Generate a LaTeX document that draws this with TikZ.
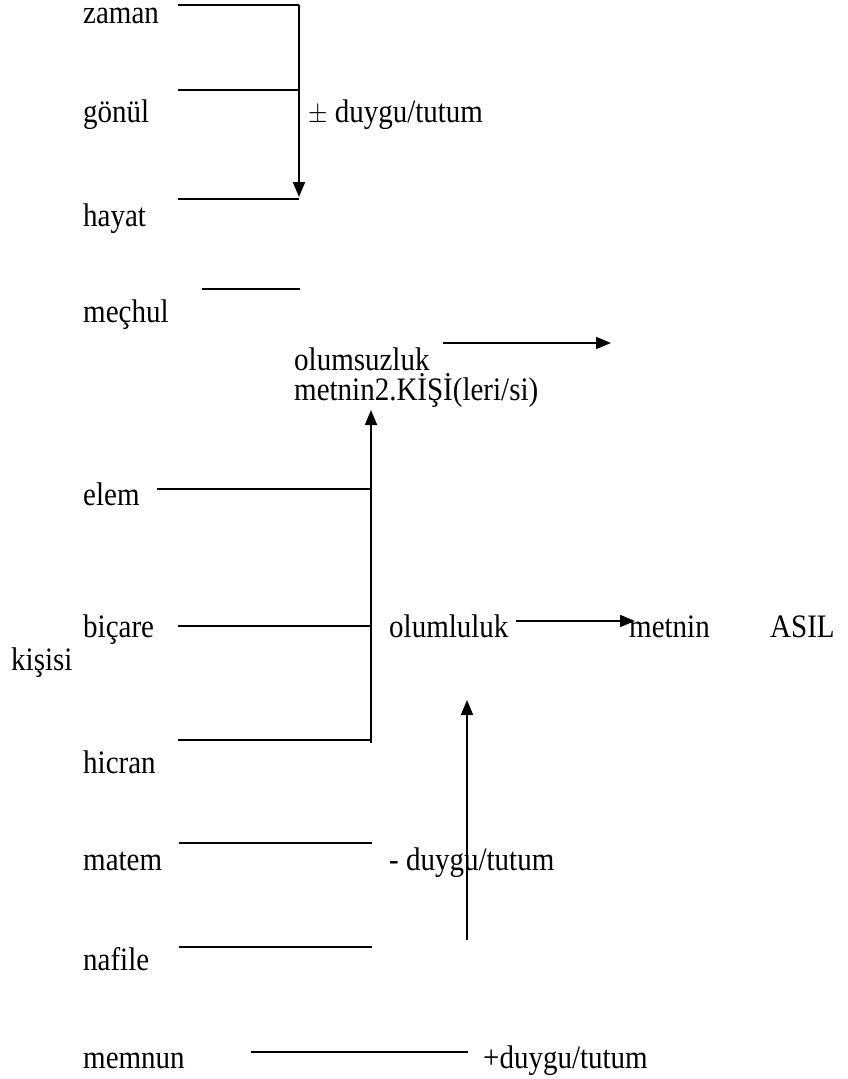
\documentclass[tikz,border=0pt]{standalone}
\usepackage{fontspec}
\setmainfont{Liberation Serif}
\usetikzlibrary{arrows.meta}

% the source text is set a little taller than wide
\newcommand{\tall}[1]{\scalebox{1}[1.13]{#1}}

\begin{document}
\begin{tikzpicture}[x=1pt,y=-1pt,
    word/.style={anchor=base west,inner sep=0pt,font=\fontsize{29}{30}\selectfont},
    bar/.style={line width=1.8pt},
    tip/.style={bar,-{Triangle[length=15pt,width=12pt]}}]
    \useasboundingbox (0,0) rectangle (847,1079);

    % left column of words
    \node[word] (zaman)  at (83,23)   {\tall{zaman}};
    \node[word] (gonul)  at (83,122)  {\tall{gönül}};
    \node[word] (hayat)  at (83,226)  {\tall{hayat}};
    \node[word] (mechul) at (83,322)  {\tall{meçhul}};
    \node[word] (elem)   at (83,505)  {\tall{elem}};
    \node[word] (bicare) at (83,637)  {\tall{biçare}};
    \node[word] (kisisi) at (11,670)  {\tall{kişisi}};
    \node[word] (hicran) at (83,773)  {\tall{hicran}};
    \node[word] (matem)  at (83,870)  {\tall{matem}};
    \node[word] (nafile) at (83,970)  {\tall{nafile}};
    \node[word] (memnun) at (83,1068) {\tall{memnun}};

    % labels
    \node[word] (karisik)   at (308,122)  {\tall{$\pm$ duygu/tutum}};
    \node[word] (olumsuz)   at (294,370)  {\tall{olumsuzluk}};
    \node[word] (ikinci)    at (294,400)  {\tall{metnin2.KİŞİ(leri/si)}};
    \node[word] (olumlu)    at (389,637)  {\tall{olumluluk}};
    \node[word] (metnin)    at (629,637)  {\tall{metnin}};
    \node[word] (asil)      at (770,637)  {\tall{ASIL}};
    \node[word] (eksi)      at (389,870)  {\tall{- duygu/tutum}};
    \node[word] (arti)      at (483,1068) {\tall{+duygu/tutum}};

    % ends of the strokes
    \coordinate (zamanL) at (178,5);    \coordinate (zamanR) at (299,5);
    \coordinate (gonulL) at (178,90);   \coordinate (gonulR) at (299,90);
    \coordinate (hayatL) at (178,199);  \coordinate (hayatR) at (299,199);
    \coordinate (ustuc)  at (299,197);
    \coordinate (mechulL) at (202,289); \coordinate (mechulR) at (300,289);
    \coordinate (olumsuzL) at (443,343); \coordinate (olumsuzR) at (611,343);
    \coordinate (elemL)   at (157,489); \coordinate (elemR)   at (371,489);
    \coordinate (bicareL) at (178,626); \coordinate (bicareR) at (371,626);
    \coordinate (hicranL) at (178,740); \coordinate (hicranR) at (371,740);
    \coordinate (ortaalt) at (371,743); \coordinate (ortaust) at (371,410);
    \coordinate (olumluL) at (516,621); \coordinate (olumluR) at (635,621);
    \coordinate (sagalt)  at (467,940); \coordinate (sagust)  at (467,700);
    \coordinate (matemL)  at (179,843); \coordinate (matemR)  at (372,843);
    \coordinate (nafileL) at (179,947); \coordinate (nafileR) at (372,947);
    \coordinate (memnunL) at (251,1052); \coordinate (memnunR) at (468,1052);

    % top bracket
    \draw[bar] (zamanL) -- (zamanR);
    \draw[bar] (gonulL) -- (gonulR);
    \draw[bar] (hayatL) -- (hayatR);
    \draw[tip] (zamanR) -- (ustuc);
    \draw[bar] (mechulL) -- (mechulR);
    \draw[tip] (olumsuzL) -- (olumsuzR);

    % middle bracket
    \draw[bar] (elemL) -- (elemR);
    \draw[bar] (bicareL) -- (bicareR);
    \draw[bar] (hicranL) -- (hicranR);
    \draw[tip] (ortaalt) -- (ortaust);
    \draw[tip] (olumluL) -- (olumluR);

    % bottom
    \draw[bar] (matemL) -- (matemR);
    \draw[bar] (nafileL) -- (nafileR);
    \draw[bar] (memnunL) -- (memnunR);
    \draw[tip] (sagalt) -- (sagust);
\end{tikzpicture}
\end{document}
